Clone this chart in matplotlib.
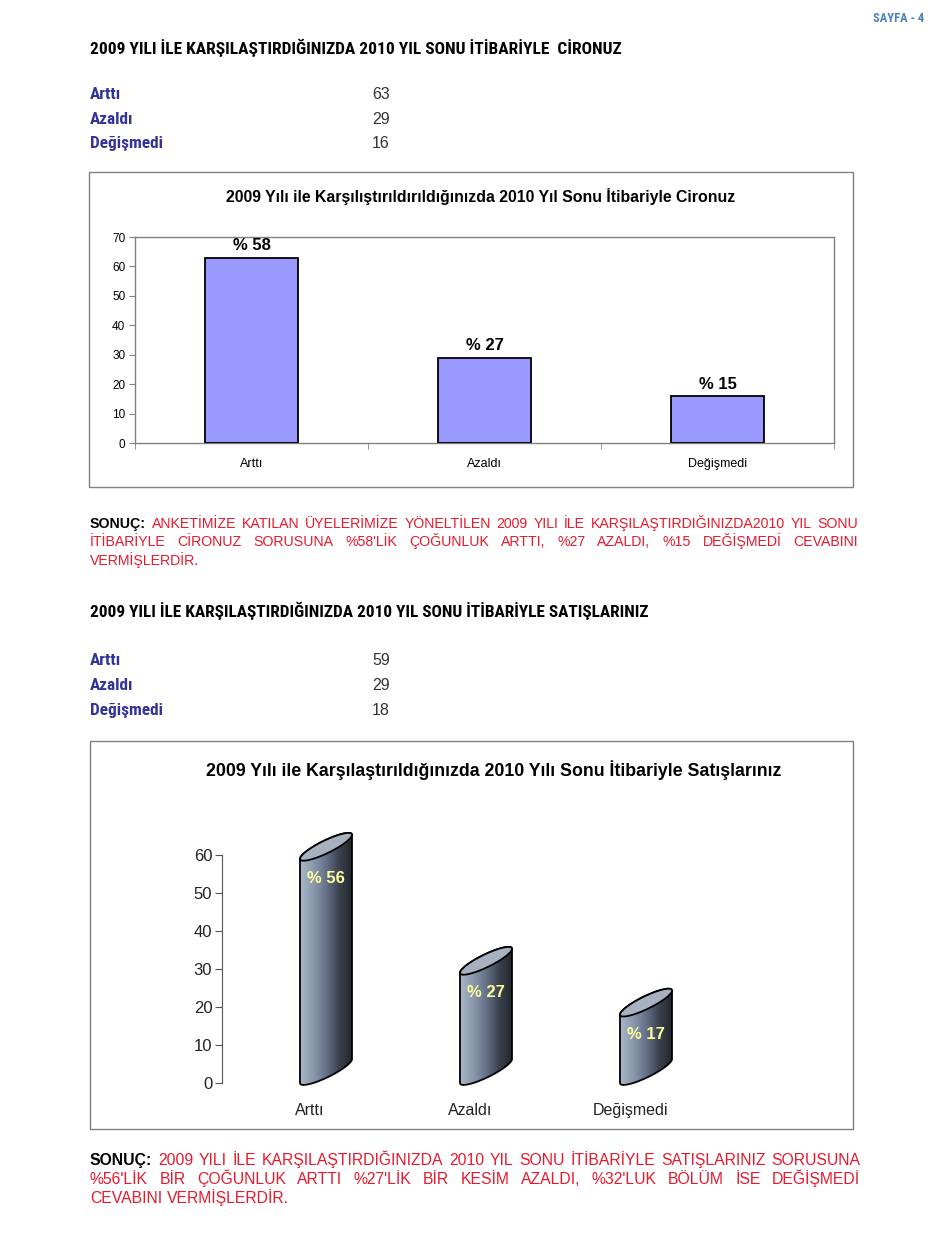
import os
import numpy as np
import matplotlib
matplotlib.use('Agg')
import matplotlib.pyplot as plt
from matplotlib import font_manager as fm
from matplotlib.patches import Rectangle, Polygon
from matplotlib.colors import LinearSegmentedColormap

# Veriler
categories = ['Arttı', 'Azaldı', 'Değişmedi']
ciro_counts = [63, 29, 16]
ciro_pct = [58, 27, 15]
satis_counts = [59, 29, 18]
satis_pct = [56, 27, 17]

page_label = 'SAYFA - 4'
heading_ciro = '2009 YILI İLE KARŞILAŞTIRDIĞINIZDA 2010 YIL SONU İTİBARİYLE  CİRONUZ'
heading_satis = '2009 YILI İLE KARŞILAŞTIRDIĞINIZDA 2010 YIL SONU İTİBARİYLE SATIŞLARINIZ'
title_ciro = '2009 Yılı ile Karşılıştırıldırıldığınızda 2010 Yıl Sonu İtibariyle Cironuz'
title_satis = '2009 Yılı ile Karşılaştırıldığınızda 2010 Yılı Sonu İtibariyle Satışlarınız'
sonuc_ciro = [
    'ANKETİMİZE KATILAN ÜYELERİMİZE YÖNELTİLEN 2009 YILI İLE KARŞILAŞTIRDIĞINIZDA2010 YIL SONU',
    "İTİBARİYLE CİRONUZ SORUSUNA %58'LİK ÇOĞUNLUK ARTTI, %27 AZALDI, %15 DEĞİŞMEDİ CEVABINI",
    'VERMİŞLERDİR.',
]
sonuc_satis = [
    '2009 YILI İLE KARŞILAŞTIRDIĞINIZDA 2010 YIL SONU İTİBARİYLE SATIŞLARINIZ SORUSUNA',
    "%56'LİK BİR ÇOĞUNLUK ARTTI %27'LİK BİR KESİM AZALDI, %32'LUK BÖLÜM İSE DEĞİŞMEDİ",
    'CEVABINI VERMİŞLERDİR.',
]

plt.rcParams['font.family'] = ['Liberation Sans', 'DejaVu Sans']
RED = '#e8192c'
NAVY = '#333399'


def narrow_font(bold=True):
    # dar (condensed) bir yazı tipi bul, yoksa normal Liberation Sans
    for name in ['Liberation Sans Narrow', 'Arial Narrow', 'Roboto Condensed',
                 'DejaVu Sans']:
        for f in fm.fontManager.ttflist:
            base = os.path.basename(f.fname).lower()
            if f.name != name:
                continue
            if name == 'DejaVu Sans' and 'condensed' not in base:
                continue
            if ('bold' in base) != bold:
                continue
            if 'oblique' in base or 'italic' in base:
                continue
            return fm.FontProperties(fname=f.fname)
    return fm.FontProperties(family='Liberation Sans',
                             weight='bold' if bold else 'normal')


NARROW_BOLD = narrow_font(True)

W, H = 950, 1260
fig = plt.figure(figsize=(W / 100, H / 100), dpi=100)
fig.patch.set_facecolor('white')
renderer = fig.canvas.get_renderer()


def fx(x):
    return x / W


def fy(y):
    return 1 - y / H


def fit_text(x, y, s, width, size, **kw):
    # yazıyı verilen piksel genişliğine oturt
    t = fig.text(fx(x), fy(y), s, va='baseline', **kw)
    t.set_fontsize(size)
    w = t.get_window_extent(renderer).width
    t.set_fontsize(size * width / w)
    return t


def paragraph(lines, x0, x1, y0, step, size, lead=None):
    # iki yana yaslı paragraf; ilk satırda kalın 'SONUÇ:' başlığı
    for k, line in enumerate(lines):
        y = y0 + k * step
        parts = [(w, RED, 'normal') for w in line.split()]
        if k == 0 and lead:
            parts.insert(0, (lead, 'black', 'bold'))
        texts = [fig.text(fx(x0), fy(y), w, fontsize=size, color=c,
                          fontweight=fw, va='baseline', ha='left')
                 for w, c, fw in parts]
        widths = [t.get_window_extent(renderer).width for t in texts]
        if k < len(lines) - 1:
            gap = (x1 - x0 - sum(widths)) / (len(texts) - 1)
        else:
            gap = size * 0.28 * 100 / 72
        x = x0
        for t, w in zip(texts, widths):
            t.set_x(fx(x))
            x += w + gap


# sayfa başlığı
fit_text(924, 22, page_label, 51, 8, ha='right', color='#4a82c0',
         fontproperties=NARROW_BOLD)

# ---- Ciro bölümü ----
fit_text(90, 54, heading_ciro, 529, 12, ha='left',
         fontproperties=NARROW_BOLD)
ref = fit_text(-500, 0, categories[-1], 73, 12, fontproperties=NARROW_BOLD)
lab_size = ref.get_fontsize()
ref.remove()
for i, (cat, val) in enumerate(zip(categories, ciro_counts)):
    y = 99 + i * 24.5
    t = fig.text(fx(90), fy(y), cat, color=NAVY, fontproperties=NARROW_BOLD,
                 va='baseline')
    t.set_fontsize(lab_size)
    fig.text(fx(372), fy(y), str(val), fontsize=11.5, color='#333333',
             va='baseline')

fig.add_artist(Rectangle((fx(89), fy(487)), (853 - 89) / W, (487 - 172) / H,
                         transform=fig.transFigure, fill=False,
                         edgecolor='#808080', linewidth=1))
fit_text(481, 202, title_ciro, 513, 10, ha='center', fontweight='bold')

ax1 = fig.add_axes([fx(135), fy(443), (834 - 135) / W, (443 - 237) / H])
x = np.arange(len(categories))
bars = ax1.bar(x, ciro_counts, width=0.4, color='#9999ff',
               edgecolor='black', linewidth=1.3, zorder=3)
ax1.bar_label(bars, labels=[f'% {p}' for p in ciro_pct], padding=3,
              fontsize=12, fontweight='bold')
ax1.set_xlim(-0.5, 2.5)
ax1.set_ylim(0, 70)
ax1.set_yticks(range(0, 71, 10))
ax1.set_xticks(x)
ax1.set_xticklabels(categories)
ax1.set_xticks([-0.5, 0.5, 1.5, 2.5], minor=True)
ax1.tick_params(axis='x', which='major', length=0, pad=11, labelsize=9)
ax1.tick_params(axis='x', which='minor', length=4, color='#808080')
ax1.tick_params(axis='y', length=4, color='#808080', labelsize=8.5, pad=3)
for sp in ax1.spines.values():
    sp.set_color('#808080')
    sp.set_linewidth(1)

paragraph(sonuc_ciro, 90, 858, 527.5, 18.5, 10.2, lead='SONUÇ:')

# ---- Satış bölümü ----
fit_text(90, 617, heading_satis, 559, 12, ha='left',
         fontproperties=NARROW_BOLD)
for i, (cat, val) in enumerate(zip(categories, satis_counts)):
    y = 665 + i * 25
    t = fig.text(fx(90), fy(y), cat, color=NAVY, fontproperties=NARROW_BOLD,
                 va='baseline')
    t.set_fontsize(lab_size)
    fig.text(fx(372), fy(y), str(val), fontsize=11.5, color='#333333',
             va='baseline')

fig.add_artist(Rectangle((fx(90), fy(1129)), (853 - 90) / W, (1129 - 741) / H,
                         transform=fig.transFigure, fill=False,
                         edgecolor='#808080', linewidth=1))
fit_text(494, 776, title_satis, 571, 12, ha='center', fontweight='bold')

unit = 38 / 10   # piksel / birim
cat_px = 160
ax2 = fig.add_axes([fx(222), fy(1083 + 3 * unit), 610 / W, 73 * unit / H])
ax2.set_facecolor('none')

body_cmap = LinearSegmentedColormap.from_list(
    'cyl', ['#a9b7c8', '#8a99ad', '#66728a', '#3c4350', '#22262c'])
w = 26 / cat_px      # silindir yarı genişliği
dy = 24 / unit       # derinlik kayması
hh = 7 / unit        # elips kalınlığı
shift = 0.1

for i, (val, pct) in enumerate(zip(satis_counts, satis_pct)):
    xc = i + shift
    tb = np.linspace(np.pi, 2 * np.pi, 80)
    bx = xc + w * np.cos(tb)
    by = dy / 2 * (1 + np.cos(tb)) + hh * np.sin(tb)
    tt = np.linspace(0, np.pi, 80)
    ux = xc + w * np.cos(tt)
    uy = val + dy / 2 * (1 + np.cos(tt)) + hh * np.sin(tt)
    body = Polygon(np.column_stack([np.r_[bx, ux], np.r_[by, uy]]),
                   closed=True, facecolor='none', edgecolor='black',
                   linewidth=1.3, zorder=4)
    ax2.add_patch(body)
    grad = np.linspace(0, 1, 256).reshape(1, -1)
    im = ax2.imshow(grad, extent=[xc - w, xc + w, -3, val + dy + hh],
                    cmap=body_cmap, aspect='auto', zorder=3,
                    interpolation='bilinear')
    im.set_clip_path(body)
    ta = np.linspace(0, 2 * np.pi, 160)
    top = Polygon(np.column_stack([xc + w * np.cos(ta),
                                   val + dy / 2 * (1 + np.cos(ta)) + hh * np.sin(ta)]),
                  closed=True, facecolor='#a7b1bf', edgecolor='black',
                  linewidth=1.3, zorder=5)
    ax2.add_patch(top)
    ax2.annotate(f'% {pct}', (xc, val), xytext=(0, -14),
                 textcoords='offset points', ha='center', va='center',
                 color='#ffff99', fontsize=12, fontweight='bold', zorder=6)

ax2.set_xlim(-(310 - 222) / cat_px, -(310 - 222) / cat_px + 610 / cat_px)
ax2.set_ylim(-3, 70)
ax2.set_yticks(range(0, 61, 10))
ax2.set_xticks(range(len(categories)))
ax2.set_xticklabels(categories)
for side in ['top', 'right', 'bottom']:
    ax2.spines[side].set_visible(False)
ax2.spines['left'].set_bounds(0, 60)
ax2.spines['left'].set_color('#555555')
ax2.tick_params(axis='y', length=5, color='#555555', labelsize=12, pad=2,
                labelcolor='#222222')
ax2.tick_params(axis='x', length=0, labelsize=11.5, pad=6,
                labelcolor='#222222')

paragraph(sonuc_satis, 90, 860, 1165, 19, 11.3, lead='SONUÇ:')

fig.savefig('out.png', dpi=100)
